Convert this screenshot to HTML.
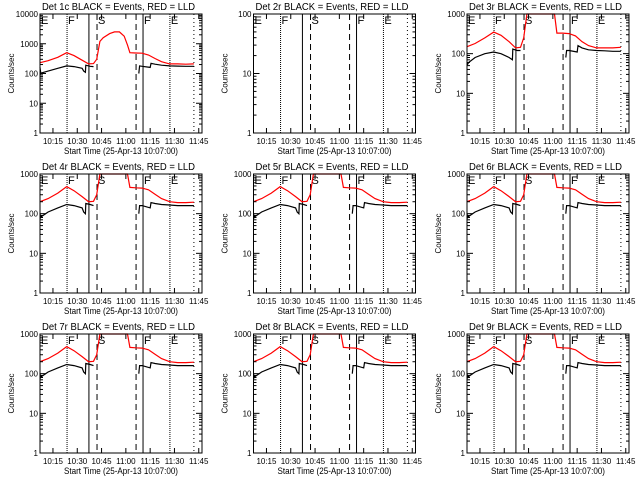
<!DOCTYPE html>
<html><head><meta charset="utf-8"><style>
html,body{margin:0;padding:0;background:#fff;width:640px;height:480px;overflow:hidden}
svg text{font-family:"Liberation Sans",sans-serif;fill:#000}
</style></head><body>
<svg id="c" width="640" height="480" xmlns="http://www.w3.org/2000/svg"></svg>
<script>
// ---- data (minutes after 10:00) ----
const tickMinutes=[15,30,45,60,75,90,105];
const tickLabels=["10:15","10:30","10:45","11:00","11:15","11:30","11:45"];
const panelTitles=["Det 1c BLACK = Events, RED = LLD","Det 2r BLACK = Events, RED = LLD","Det 3r BLACK = Events, RED = LLD","Det 4r BLACK = Events, RED = LLD","Det 5r BLACK = Events, RED = LLD","Det 6r BLACK = Events, RED = LLD","Det 7r BLACK = Events, RED = LLD","Det 8r BLACK = Events, RED = LLD","Det 9r BLACK = Events, RED = LLD"];
const panelDecades=[4,2,3,3,3,3,3,3,3];
const markerTimes=[23.7,37.2,42.2,66.3,70.6,87.2,102];
const markerStyles=["1,1","","6,4","6,4","","1,1","1,3"];
const letterTimes=[7,23.7,42.2,70.6,87.2];
const letterText=["E","F","S","F","E"];
const redTimes=[7,12,18,23.5,28,33,37,40,42,44,46,50,53,56,59,61,62.5,66,70,74,78,82,87,92,97,102];
const blackTimes=[7,7.5,8,12,18,23.5,28,33,34,35,35.3,38,40,null,68,68.5,70,75,75.5,78,82,87,92,97,102];
const red1=[230,270,350,500,400,280,210,215,300,1200,1600,2200,2500,2500,1800,900,500,490,480,420,320,250,210,210,205,210];
const black1=[160,100,105,120,150,180,170,150,120,110,190,175,170,null,100,180,175,160,220,205,190,180,178,175,175,175];
const redA=[200,240,330,480,380,270,200,205,300,1500,3000,5000,5000,5000,3000,1500,460,450,440,400,310,240,200,190,190,195];
const blackA=[100,80,85,110,140,170,160,140,110,100,180,170,160,null,100,160,160,140,190,180,170,165,160,160,160,165];
const red3=[150,180,250,350,290,200,140,145,250,1500,3000,5000,5000,5000,3000,1500,330,330,320,280,200,160,140,140,140,145];
const black3=[60,55,60,80,100,110,100,80,75,70,130,120,120,null,80,120,120,110,160,140,125,120,118,115,115,115];
const redSeries=[red1,null,red3,redA,redA,redA,redA,redA,redA];
const blackSeries=[black1,null,black3,blackA,blackA,blackA,blackA,blackA,blackA];

const NS="http://www.w3.org/2000/svg";
const svg=document.getElementById('c');
function mk(tag,attrs,parent){const e=document.createElementNS(NS,tag);for(const k in attrs)e.setAttribute(k,attrs[k]);(parent||svg).appendChild(e);return e;}

for(let p=0;p<9;p++){
  const col=p%3,row=Math.floor(p/3);
  const L=40+col*213.5,R=L+162,T=14+row*160,B=T+119;
  const dec=panelDecades[p];
  const xs=t=>L+(t-7)/100*(R-L);
  const ys=v=>B-Math.log10(v)/dec*(B-T);
  const g=mk('g',{});
  
  
  const title=mk('text',{x:L+2,y:T-4,'font-size':10,textLength:153,lengthAdjust:'spacingAndGlyphs'},g);
  
  
  title.textContent=panelTitles[p];
  markerTimes.forEach((t,i)=>{
    const ln=mk('line',{x1:xs(t),x2:xs(t),y1:T,y2:B,stroke:'#000','stroke-width':1},g);
    if(markerStyles[i])ln.setAttribute('stroke-dasharray',markerStyles[i]);
    
    
  });
  letterTimes.forEach((t,i)=>{
    const tx=mk('text',{x:xs(t)+1,y:T+10,'font-size':11},g);
    
    
    tx.textContent=letterText[i];
  });
  function draw(times,vals,color,name){
    if(!vals)return;
    let d='',pen=false;
    for(let i=0;i<times.length;i++){
      if(times[i]===null||vals[i]===null){pen=false;continue;}
      const y=Math.max(T,ys(vals[i]));
      d+=(pen?'L':'M')+xs(times[i]).toFixed(1)+','+y.toFixed(1);pen=true;
    }
    const path=mk('path',{d:d,fill:'none',stroke:color,'stroke-width':1.2},g);
    
    
  }
  draw(redTimes,redSeries[p],'#f00','lld-rate-line');
  draw(blackTimes,blackSeries[p],'#000','events-rate-line');
  const fr=mk('rect',{x:L,y:T,width:R-L,height:B-T,fill:'none',stroke:'#000','stroke-width':1},g);
  
  
  for(let k=0;k<=dec;k++){
    const y=ys(Math.pow(10,k));
    mk('line',{x1:L,x2:L+6,y1:y,y2:y,stroke:'#000'},g);
    mk('line',{x1:R,x2:R-6,y1:y,y2:y,stroke:'#000'},g);
    const lb=mk('text',{x:L-2,y:y+3,'font-size':8,'text-anchor':'end'},g);
    
    
    lb.textContent=String(Math.pow(10,k));
    if(k<dec)for(let m=2;m<10;m++){
      const ym=ys(m*Math.pow(10,k));
      mk('line',{x1:L,x2:L+3,y1:ym,y2:ym,stroke:'#000'},g);
      mk('line',{x1:R,x2:R-3,y1:ym,y2:ym,stroke:'#000'},g);
    }
  }
  tickMinutes.forEach((t,i)=>{
    const x=xs(t);
    mk('line',{x1:x,x2:x,y1:B,y2:B-5,stroke:'#000'},g);
    mk('line',{x1:x,x2:x,y1:T,y2:T+5,stroke:'#000'},g);
    const lb=mk('text',{x:x,y:B+11,'font-size':8,'text-anchor':'middle'},g);
    
    
    lb.textContent=tickLabels[i];
  });
  const xl=mk('text',{x:(L+R)/2,y:B+21,'font-size':9,'text-anchor':'middle',textLength:114,lengthAdjust:'spacingAndGlyphs'},g);
  
  
  xl.textContent='Start Time (25-Apr-13 10:07:00)';
  const yl=mk('text',{x:0,y:0,'font-size':8,'text-anchor':'middle',transform:'translate('+(L-26)+','+((T+B)/2)+') rotate(-90)'},g);
  
  
  yl.textContent='Counts/sec';
}
</script>
</body></html>
